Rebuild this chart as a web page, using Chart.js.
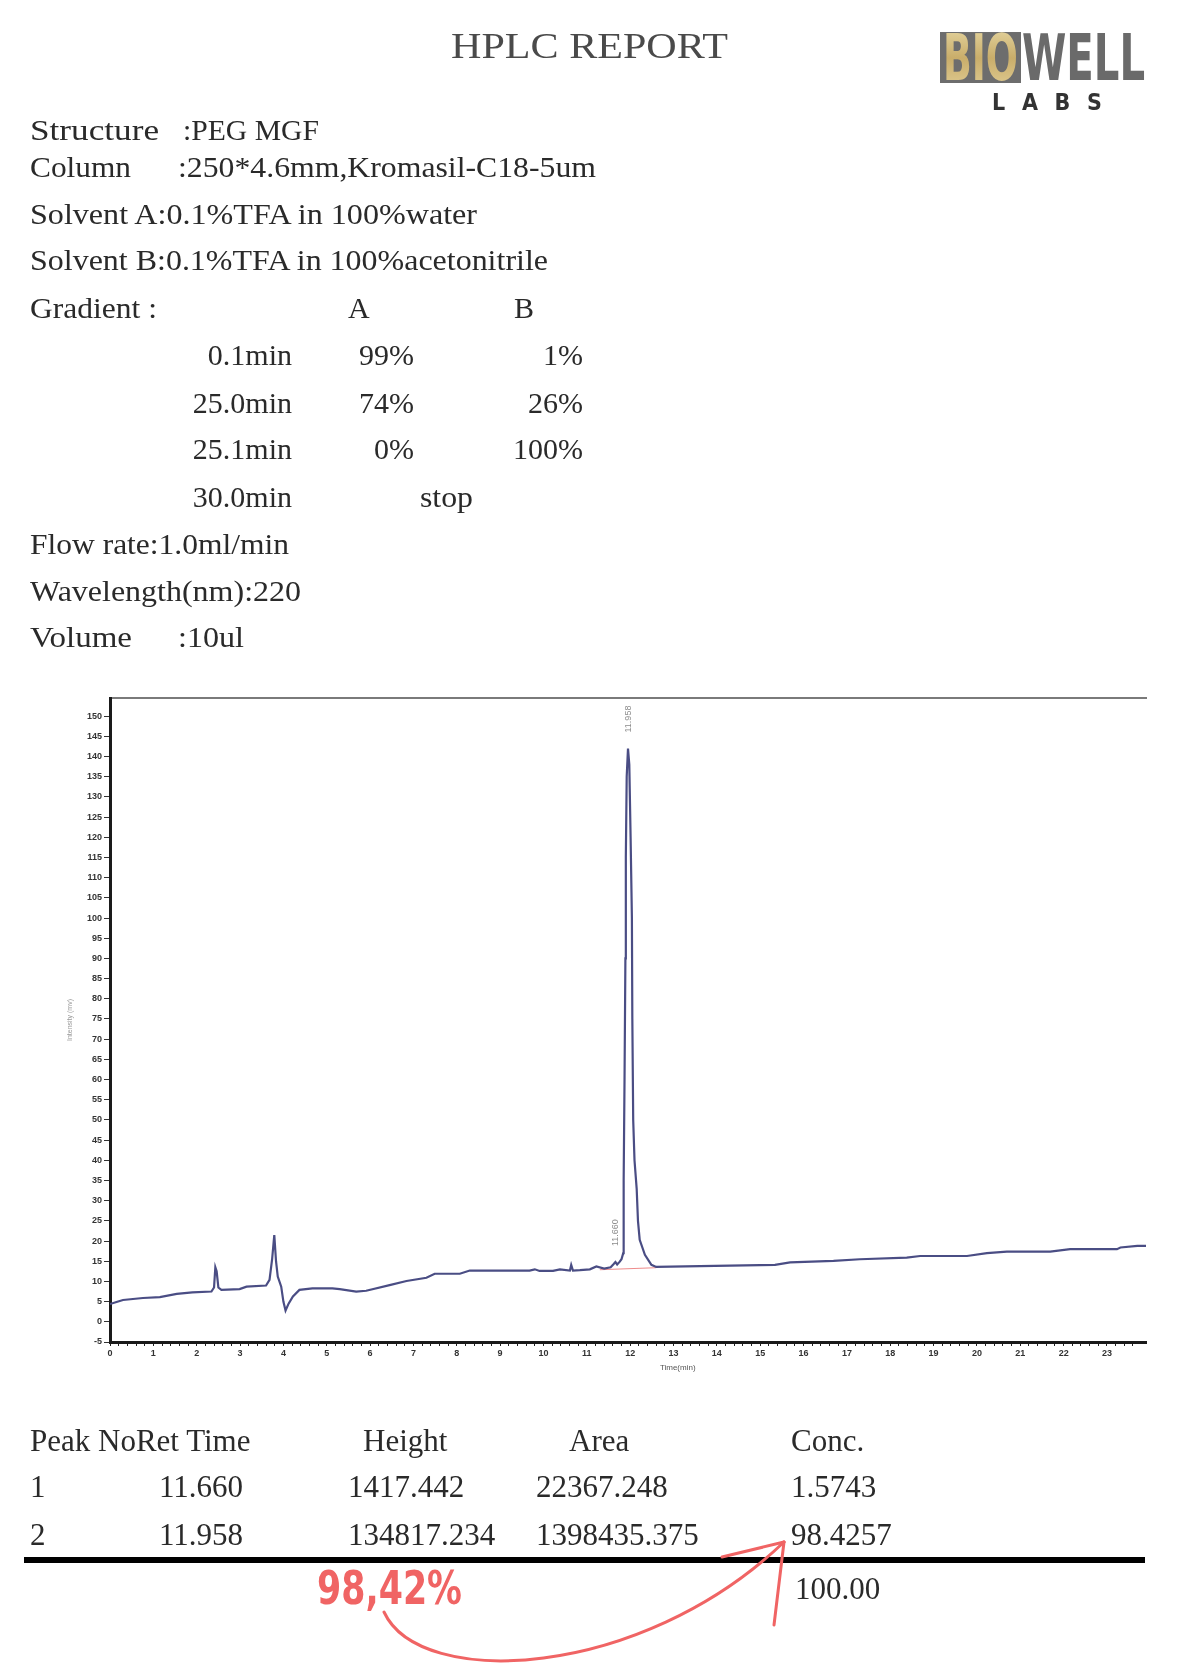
<!DOCTYPE html>
<html>
<head>
<meta charset="utf-8">
<title>HPLC Report</title>
<script src="https://cdn.jsdelivr.net/npm/chart.js@4.4.1/dist/chart.umd.min.js"></script>
<style>
  html, body { margin: 0; padding: 0; background: #fff; }
  body { width: 1177px; height: 1665px; position: relative; overflow: hidden; }
  #chromatogram { position: absolute; left: 66px; top: 690px; }
  #sheet { position: absolute; left: 0; top: 0; }
  #sheet text { font-family: "Liberation Serif", "DejaVu Serif", serif; fill: #2a2a2a; }
</style>
</head>
<body>
<canvas id="chromatogram" width="1111" height="682"></canvas>

<svg id="sheet" width="1177" height="1665" xmlns="http://www.w3.org/2000/svg">
  <defs>
    <linearGradient id="gold" x1="0" y1="0" x2="0" y2="1">
      <stop offset="0" stop-color="#e9dba8"/>
      <stop offset="0.5" stop-color="#c9ad6a"/>
      <stop offset="1" stop-color="#e3d19a"/>
    </linearGradient>
  </defs>

  <text x="451" y="58" font-size="36" textLength="277" lengthAdjust="spacingAndGlyphs" style="fill:#4a4a4a">HPLC REPORT</text>

  <!-- logo -->
  <rect x="940" y="32" width="81" height="51" fill="#6d6d6d"/>
  <text x="943" y="80" font-size="64" textLength="75" lengthAdjust="spacingAndGlyphs"
        style="font-family:'DejaVu Sans Condensed','DejaVu Sans',sans-serif;font-weight:bold;fill:url(#gold)">BIO</text>
  <text x="1022" y="80" font-size="64" textLength="123" lengthAdjust="spacingAndGlyphs"
        style="font-family:'DejaVu Sans Condensed','DejaVu Sans',sans-serif;font-weight:bold;fill:#6a6a6a">WELL</text>
  <text x="992" y="110" font-size="23" textLength="110" lengthAdjust="spacing"
        style="font-family:'DejaVu Sans Condensed','DejaVu Sans',sans-serif;font-weight:bold;fill:#333">L A B S</text>

  <!-- method -->
  <g font-size="30">
    <text x="30" y="140" textLength="129" lengthAdjust="spacingAndGlyphs">Structure</text>
    <text x="183" y="140" textLength="136" lengthAdjust="spacingAndGlyphs">:PEG MGF</text>
    <text x="30" y="177" textLength="101" lengthAdjust="spacingAndGlyphs">Column</text>
    <text x="178" y="177" textLength="418" lengthAdjust="spacingAndGlyphs">:250*4.6mm,Kromasil-C18-5um</text>
    <text x="30" y="224" textLength="447" lengthAdjust="spacingAndGlyphs">Solvent A:0.1%TFA in 100%water</text>
    <text x="30" y="270" textLength="518" lengthAdjust="spacingAndGlyphs">Solvent B:0.1%TFA in 100%acetonitrile</text>
    <text x="30" y="318" textLength="127" lengthAdjust="spacingAndGlyphs">Gradient :</text>
    <text x="348" y="318">A</text>
    <text x="514" y="318">B</text>

    <text x="292" y="365" text-anchor="end">0.1min</text>
    <text x="414" y="365" text-anchor="end">99%</text>
    <text x="583" y="365" text-anchor="end">1%</text>
    <text x="292" y="413" text-anchor="end">25.0min</text>
    <text x="414" y="413" text-anchor="end">74%</text>
    <text x="583" y="413" text-anchor="end">26%</text>
    <text x="292" y="459" text-anchor="end">25.1min</text>
    <text x="414" y="459" text-anchor="end">0%</text>
    <text x="583" y="459" text-anchor="end">100%</text>
    <text x="292" y="507" text-anchor="end">30.0min</text>
    <text x="420" y="507" textLength="53" lengthAdjust="spacingAndGlyphs">stop</text>

    <text x="30" y="554" textLength="259" lengthAdjust="spacingAndGlyphs">Flow rate:1.0ml/min</text>
    <text x="30" y="601" textLength="271" lengthAdjust="spacingAndGlyphs">Wavelength(nm):220</text>
    <text x="30" y="647" textLength="102" lengthAdjust="spacingAndGlyphs">Volume</text>
    <text x="178" y="647" textLength="66" lengthAdjust="spacingAndGlyphs">:10ul</text>
  </g>

  <!-- results table, filled from the arrays below -->
  <g id="table" font-size="31"></g>
  <rect x="24" y="1557" width="1121" height="6" fill="#000"/>

  <!-- hand annotation -->
  <g fill="none" stroke="#f06464" stroke-width="3" stroke-linecap="round">
    <path d="M384,1612 C420,1690 640,1680 784,1542"/>
    <path d="M784,1542 L722,1557"/>
    <path d="M784,1542 L774,1625"/>
  </g>
  <text x="317" y="1604" font-size="46" textLength="145" lengthAdjust="spacingAndGlyphs"
        style="font-family:'DejaVu Sans Condensed','DejaVu Sans',sans-serif;font-weight:bold;fill:#f06464">98,42%</text>
</svg>

<script>
// chromatogram trace
const timeMin = [0, 0.15, 0.3, 0.76, 1.15, 1.54, 1.9, 2.34, 2.40, 2.43, 2.46, 2.50, 2.57, 2.99, 3.15,
  3.6, 3.68, 3.74, 3.79, 3.83, 3.87, 3.95, 4.0, 4.05, 4.12, 4.22, 4.37, 4.67, 5.13, 5.30, 5.68, 5.91,
  6.45, 6.84, 7.30, 7.49, 8.07, 8.30, 9.68, 9.80, 9.91, 10.22, 10.38, 10.61, 10.64, 10.68, 10.84,
  11.07, 11.22, 11.40, 11.55, 11.62, 11.66, 11.70, 11.76, 11.80, 11.84, 11.85, 11.87, 11.89, 11.90,
  11.92, 11.95, 11.98, 12.01, 12.04, 12.05, 12.07, 12.10, 12.15, 12.18, 12.22, 12.34, 12.49, 12.60,
  13.61, 15.34, 15.69, 16.69, 17.3, 18.38, 18.69, 19.77, 20.23, 20.69, 21.69, 22.15, 23.23, 23.31,
  23.7, 23.9];
const intensity = [4.4, 4.9, 5.4, 5.9, 6.1, 6.9, 7.3, 7.5, 8.5, 13.5, 12.5, 8.5, 7.9, 8.1, 8.7,
  9.0, 10.4, 15.5, 21.5, 15, 11.2, 8.7, 5, 2.8, 4.5, 6.3, 7.9, 8.3, 8.3, 8.1, 7.5, 7.7,
  9.1, 10.1, 10.9, 11.9, 11.9, 12.7, 12.7, 13.0, 12.6, 12.6, 13.0, 12.7, 14.1, 12.7, 12.8,
  13.0, 13.7, 13.2, 13.5, 14.3, 14.8, 14.2, 14.9, 15.5, 17, 35, 60, 90, 115,
  135, 142, 138, 120, 100, 75, 50, 40, 33, 25, 20.3, 16.6, 14.1, 13.6,
  13.8, 14.1, 14.7, 15.1, 15.5, 15.9, 16.3, 16.3, 17.0, 17.4, 17.4, 18.0, 18.0, 18.4,
  18.8, 18.8];

// integration baseline under the peaks
const baseTime = [11.3, 12.6];
const baseValue = [12.9, 13.4];

// peak table
const peakNo = ["1", "2"];
const retTime = [11.660, 11.958];
const peakHeight = [1417.442, 134817.234];
const peakArea = [22367.248, 1398435.375];
const peakConc = [1.5743, 98.4257];
const concTotal = "100.00";

// --- table ---
const svgNS = "http://www.w3.org/2000/svg";
const table = document.getElementById("table");
const colX = [30, 159, 348, 536, 791];

function addText(x, y, str) {
    let t = document.createElementNS(svgNS, "text");
    t.setAttribute("x", x);
    t.setAttribute("y", y);
    t.textContent = str;
    table.appendChild(t);
}

addText(colX[0], 1451, "Peak NoRet Time");
addText(363, 1451, "Height");
addText(569, 1451, "Area");
addText(colX[4], 1451, "Conc.");
peakNo.forEach((no, i) => {
    let y = 1497 + i * 48;
    addText(colX[0], y, no);
    addText(colX[1], y, retTime[i].toFixed(3));
    addText(colX[2], y, peakHeight[i].toFixed(3));
    addText(colX[3], y, peakArea[i].toFixed(3));
    addText(colX[4], y, peakConc[i].toFixed(4));
});
addText(795, 1599, concTotal);

// --- chart ---
const peakMarks = {
    id: "peakMarks",
    afterDatasetsDraw(chart) {
        const { ctx, chartArea, scales: { x, y } } = chart;
        ctx.save();
        ctx.font = '9px "Liberation Sans", sans-serif';
        ctx.fillStyle = "#8c8c8c";
        retTime.forEach(t => {
            let best = 0;
            timeMin.forEach((tm, i) => {
                if (Math.abs(tm - t) < Math.abs(timeMin[best] - t)) best = i;
            });
            const px = x.getPixelForValue(t);
            const py = y.getPixelForValue(intensity[best]) - 16;
            ctx.save();
            ctx.translate(px, py);
            ctx.rotate(-Math.PI / 2);
            ctx.textAlign = "left";
            ctx.textBaseline = "middle";
            ctx.fillText(t.toFixed(3), 0, 0);
            ctx.restore();
        });

        ctx.font = '8px "Liberation Sans", sans-serif';
        ctx.fillStyle = "#555";
        ctx.textAlign = "center";
        ctx.textBaseline = "middle";
        ctx.fillText("Time(min)", chartArea.left + (chartArea.right - chartArea.left) * 0.548, chartArea.bottom + 26);
        ctx.restore();
    }
};

const tickFont = { family: '"Liberation Sans Narrow", "Liberation Sans", sans-serif', size: 9, weight: "bold" };

new Chart(document.getElementById("chromatogram").getContext("2d"), {
    type: "line",
    data: {
        datasets: [{
            data: timeMin.map((t, i) => ({ x: t, y: intensity[i] })),
            borderColor: "#4a4d84",
            borderWidth: 2.2,
            pointRadius: 0,
            tension: 0
        }, {
            data: baseTime.map((t, i) => ({ x: t, y: baseValue[i] })),
            borderColor: "rgba(232, 100, 100, 0.75)",
            borderWidth: 1,
            pointRadius: 0
        }]
    },
    options: {
        responsive: false,
        animation: false,
        layout: { padding: { top: 8, right: 31, bottom: 0, left: 0 } },
        plugins: { legend: { display: false }, tooltip: { enabled: false } },
        scales: {
            x: {
                type: "linear",
                min: 0,
                max: 23.9,
                afterBuildTicks: s => { s.ticks = s.ticks.filter(t => Math.abs(t.value * 5 - Math.round(t.value * 5)) < 1e-6); },
                afterFit: s => { s.height = 30; },
                grid: { drawOnChartArea: false, tickLength: 4, color: "#222" },
                border: { color: "#1a1a1a", width: 3 },
                ticks: {
                    stepSize: 0.2,
                    autoSkip: false,
                    maxRotation: 0,
                    padding: 2,
                    color: "#333",
                    font: tickFont,
                    callback: v => {
                        let r = Math.round(v);
                        return Math.abs(v - r) < 1e-6 ? String(r) : "";
                    }
                }
            },
            xTop: {
                type: "linear",
                position: "top",
                afterFit: s => { s.height = 0; },
                grid: { display: false },
                border: { color: "#7a7a7a", width: 2 },
                ticks: { display: false }
            },
            y: {
                min: -5,
                max: 154.5,
                afterBuildTicks: s => { s.ticks = s.ticks.filter(t => Math.abs(t.value / 5 - Math.round(t.value / 5)) < 1e-6); },
                afterFit: s => { s.width = 44; },
                grid: { drawOnChartArea: false, tickLength: 6, color: "#333" },
                border: { color: "#1a1a1a", width: 3 },
                ticks: { stepSize: 5, autoSkip: false, padding: 2, color: "#333", font: tickFont },
                title: { display: true, text: "Intensity (mv)", color: "#999", font: { size: 7 }, padding: 0 }
            }
        }
    },
    plugins: [peakMarks]
});
</script>
</body>
</html>
